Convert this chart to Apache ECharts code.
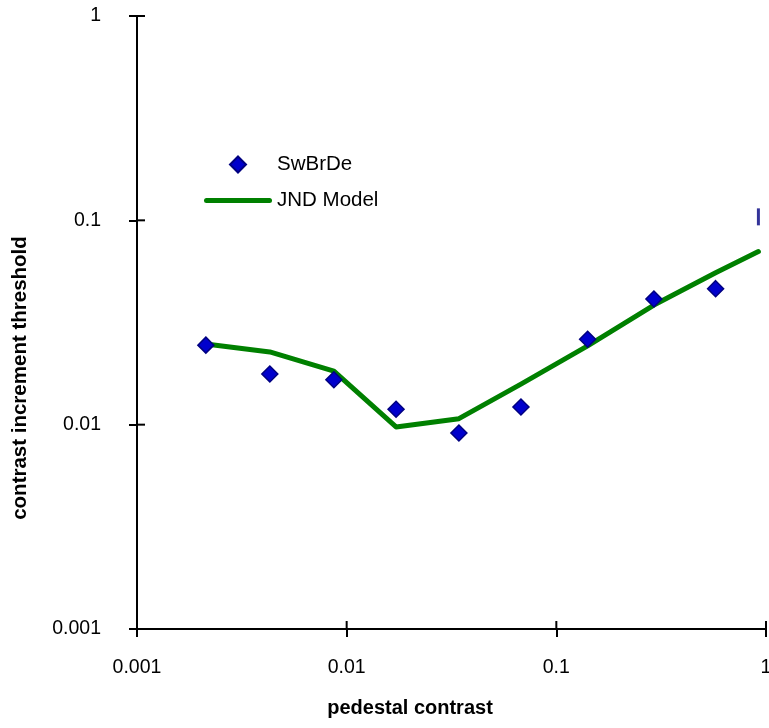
<!DOCTYPE html>
<html>
<head>
<meta charset="utf-8">
<script src="https://cdn.jsdelivr.net/npm/echarts@6/dist/echarts.min.js"></script>
<style>
html,body{margin:0;padding:0;background:#fff;}
#chart{width:769px;height:728px;}
</style>
</head>
<body>
<div id="chart"></div>
<script>
// ---- data ----
const pedestal = [0.00213, 0.0043, 0.00869, 0.0172, 0.0343, 0.0678, 0.141, 0.292, 0.575];
const swbrde = [0.0245, 0.0177, 0.0166, 0.0119, 0.0091, 0.0122, 0.0262, 0.0412, 0.0463];
const modelX = [0.00213, 0.0043, 0.00869, 0.0172, 0.0343, 0.0678, 0.141, 0.292, 0.575, 0.92];
const modelY = [0.0248, 0.0227, 0.0183, 0.00975, 0.0107, 0.0158, 0.0243, 0.0385, 0.0554, 0.0703];
const extraX = [0.92];
const extraY = [0.104];
const xTickValues = [0.001, 0.01, 0.1, 1];
const yTickValues = [0.001, 0.01, 0.1, 1];
const xTickLabels = ['0.001', '0.01', '0.1', '1'];
const yTickLabels = ['0.001', '0.01', '0.1', '1'];
const xTitle = 'pedestal contrast';
const yTitle = 'contrast increment threshold';
const seriesNames = ['SwBrDe', 'JND Model'];

const FONT = '"Liberation Sans", Arial, sans-serif';
const pair = (xs, ys) => xs.map((x, i) => [x, ys[i]]);
const fmt = labels => v => labels[Math.round(Math.log10(v)) + 3];
const X_MIN = xTickValues[0], Y_MIN = yTickValues[0];
const TICK_IN = 8;

const chart = echarts.init(document.getElementById('chart'));

const baseAxis = {
  type: 'log', logBase: 10, splitNumber: 3,
  splitLine: { show: false }, minorTick: { show: false }
};
const tickStyle = { color: '#000', width: 2 };

// inner halves of the crossing tick marks, placed at tick values through the axis scales
function innerTick(dir) {
  return function (params, api) {
    const p = api.coord([api.value(0), api.value(1)]);
    const shape = dir === 'x'
      ? { x1: p[0], y1: p[1], x2: p[0], y2: p[1] - TICK_IN }
      : { x1: p[0], y1: p[1], x2: p[0] + TICK_IN, y2: p[1] };
    return { type: 'line', shape: shape, style: { stroke: '#000', lineWidth: 2 } };
  };
}

chart.setOption({
  animation: false,
  backgroundColor: '#fff',
  grid: { left: 137, right: 3, top: 16, bottom: 99, containLabel: false, outerBoundsMode: 'none' },
  legend: {
    data: [
      { name: seriesNames[0], icon: 'path://M8,0 L16,8 L8,16 L0,8 Z' },
      { name: seriesNames[1], icon: 'path://M2.5,0 L65.5,0 A2.5,2.5 0 0 1 65.5,5 L2.5,5 A2.5,2.5 0 0 1 2.5,0 Z' }
    ],
    orient: 'vertical',
    left: 204, top: 154,
    padding: 0,
    symbolKeepAspect: true,
    itemWidth: 68, itemHeight: 16, itemGap: 15,
    textStyle: { fontFamily: FONT, fontSize: 20.5, color: '#000' }
  },
  xAxis: Object.assign({}, baseAxis, {
    min: xTickValues[0], max: xTickValues[xTickValues.length - 1],
    position: 'bottom',
    axisLine: { show: true, lineStyle: { color: '#000', width: 2 } },
    axisTick: { show: true, inside: false, length: 8, lineStyle: tickStyle },
    axisLabel: { margin: 29, fontFamily: FONT, fontSize: 19.5, color: '#000', formatter: fmt(xTickLabels) },
    name: xTitle, nameLocation: 'middle', nameGap: 69,
    nameTextStyle: { fontFamily: FONT, fontSize: 20, fontWeight: 'bold', color: '#000', padding: [0, 83, 0, 0] }
  }),
  yAxis: Object.assign({}, baseAxis, {
    min: yTickValues[0], max: yTickValues[yTickValues.length - 1],
    position: 'left',
    axisLine: { show: true, lineStyle: { color: '#000', width: 2 } },
    axisTick: { show: true, inside: false, length: 8, lineStyle: tickStyle },
    axisLabel: { margin: 36, fontFamily: FONT, fontSize: 19.5, color: '#000', formatter: fmt(yTickLabels) },
    name: yTitle, nameLocation: 'middle', nameGap: 106,
    nameTextStyle: { fontFamily: FONT, fontSize: 20.5, fontWeight: 'bold', color: '#000', padding: [0, 111, 0, 0] }
  }),
  series: [
    {
      name: seriesNames[1], type: 'line',
      data: pair(modelX, modelY),
      showSymbol: false, symbol: 'none',
      lineStyle: { color: '#008000', width: 5, cap: 'round', join: 'round' },
      itemStyle: { color: '#008000' },
      z: 2
    },
    {
      name: seriesNames[0], type: 'scatter',
      data: pair(pedestal, swbrde),
      symbol: 'diamond', symbolSize: 16,
      itemStyle: { color: '#0000CC', borderColor: '#000080', borderWidth: 1.5, opacity: 1 },
      z: 3
    },
    {
      name: 'extra', type: 'scatter',
      data: pair(extraX, extraY),
      symbol: 'rect', symbolSize: [3, 17],
      itemStyle: { color: '#000080' },
      z: 3
    },
    {
      name: 'xTicksInner', type: 'custom', silent: true, clip: false,
      data: xTickValues.map(v => [v, Y_MIN]),
      renderItem: innerTick('x'),
      z: 4
    },
    {
      name: 'yTicksInner', type: 'custom', silent: true, clip: false,
      data: yTickValues.map(v => [X_MIN, v]),
      renderItem: innerTick('y'),
      z: 4
    }
  ]
});
</script>
</body>
</html>
